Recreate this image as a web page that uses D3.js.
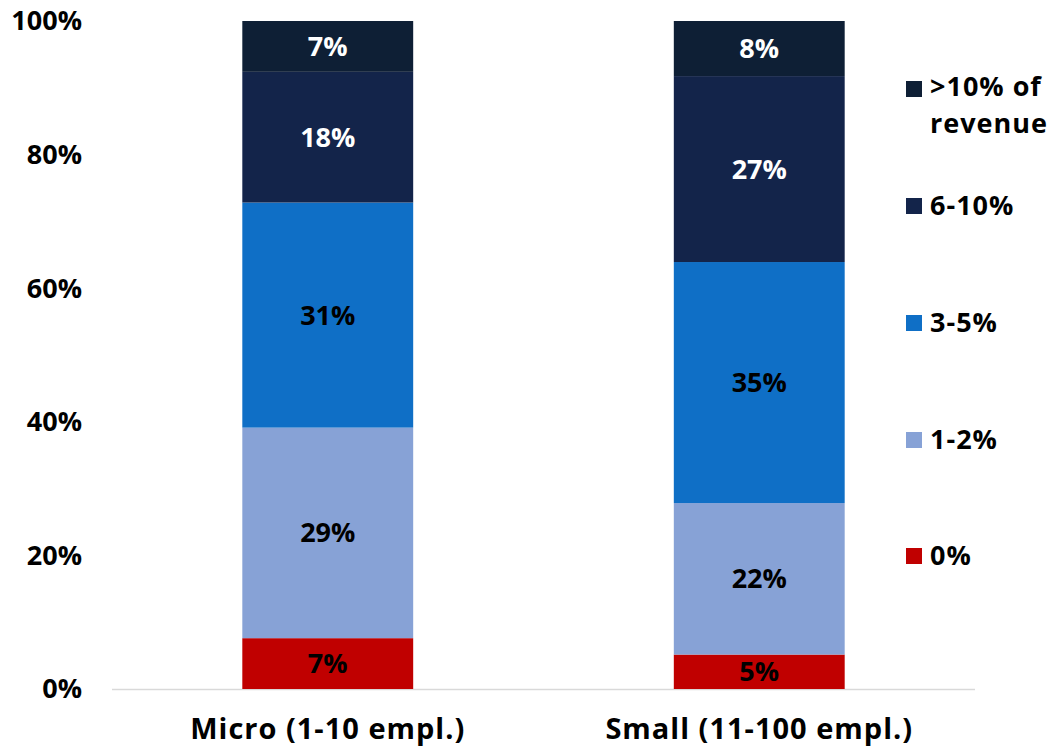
<!DOCTYPE html>
<html>
<head>
<meta charset="utf-8">
<script src="https://cdn.jsdelivr.net/npm/d3@7"></script>
<style>
  body { margin: 0; background: #fff; }
  svg text { font-family: "Open Sans", "Lato", sans-serif; font-weight: 700; }
</style>
</head>
<body>
<div id="chart-area"></div>
<script>
// data
var categories = ["Micro (1-10 empl.)", "Small (11-100 empl.)"];
var seriesNames = ["0%", "1-2%", "3-5%", "6-10%", ">10% of revenue"];
var seriesColors = ["#C00000", "#87A2D6", "#0F6FC6", "#13244A", "#0E1F35"];
var labelColors = ["#000", "#000", "#000", "#fff", "#fff"];
var micro = [7, 29, 31, 18, 7];
var small = [5, 22, 35, 27, 8];
var yTicks = [0, 20, 40, 60, 80, 100];

var width = 1056, height = 750;
var margin = { left: 112, right: 81, top: 21, bottom: 61 };
var fs = "27px";

var svg = d3.select("#chart-area").append("svg")
  .attr("width", width)
  .attr("height", height);

var x = d3.scaleBand()
  .domain(categories)
  .range([margin.left, width - margin.right])
  .paddingInner(0.604)
  .paddingOuter(0.302);

var y = d3.scaleLinear()
  .domain([0, 100])
  .range([height - margin.bottom, margin.top]);

// build normalised stack
var rows = [micro, small].map(function(vals, i) {
  var total = d3.sum(vals);
  var r = { cat: categories[i] };
  vals.forEach(function(v, j) { r[seriesNames[j]] = v / total * 100; r["raw" + j] = v; });
  return r;
});
var stack = d3.stack().keys(seriesNames)(rows);

// baseline
svg.append("line")
  .attr("x1", margin.left).attr("x2", width - margin.right)
  .attr("y1", y(0) + 0.5).attr("y2", y(0) + 0.5)
  .attr("stroke", "#D9D9D9").attr("stroke-width", 1.5);

// y axis labels
svg.append("g").selectAll("text")
  .data(yTicks).enter().append("text")
  .attr("x", 82)
  .attr("y", function(d) { return y(d); })
  .attr("dy", "0.35em")
  .attr("text-anchor", "end")
  .attr("font-size", fs)
  .text(function(d) { return d + "%"; });

// bars
var layers = svg.append("g").selectAll("g")
  .data(stack).enter().append("g")
  .attr("fill", function(d, i) { return seriesColors[i]; });

layers.selectAll("rect")
  .data(function(d) { return d; })
  .enter().append("rect")
  .attr("x", function(d) { return x(d.data.cat); })
  .attr("width", x.bandwidth())
  .attr("y", function(d) { return y(d[1]); })
  .attr("height", function(d) { return y(d[0]) - y(d[1]); });

// segment labels
stack.forEach(function(layer, i) {
  svg.append("g").selectAll("text")
    .data(layer).enter().append("text")
    .attr("x", function(d) { return x(d.data.cat) + x.bandwidth() / 2; })
    .attr("y", function(d) { return y((d[0] + d[1]) / 2); })
    .attr("dy", "0.35em")
    .attr("text-anchor", "middle")
    .attr("font-size", fs)
    .attr("fill", labelColors[i])
    .text(function(d) { return d.data["raw" + i] + "%"; });
});

// category labels
svg.append("g").selectAll("text")
  .data(categories).enter().append("text")
  .attr("x", function(d) { return x(d) + x.bandwidth() / 2; })
  .attr("y", 739)
  .attr("text-anchor", "middle")
  .attr("font-size", "29px")
  .attr("letter-spacing", "1px")
  .text(function(d) { return d; });

// legend (top entry first)
var legendY = [89, 206, 323, 440, 556];
var legendItems = seriesNames.slice().reverse();
var legendCols = seriesColors.slice().reverse();
legendItems.forEach(function(name, i) {
  var row = svg.append("g").attr("transform", "translate(906," + legendY[i] + ")");
  row.append("rect")
    .attr("x", 0).attr("y", -8)
    .attr("width", 16).attr("height", 16)
    .attr("fill", legendCols[i]);
  var lines = name === ">10% of revenue" ? [">10% of", "revenue"] : [name];
  lines.forEach(function(line, k) {
    row.append("text")
      .attr("x", 24)
      .attr("y", k === 0 ? (lines.length > 1 ? -2 : 0) : 35)
      .attr("dy", "0.35em")
      .attr("font-size", "27px")
      .attr("letter-spacing", "1px")
      .text(line);
  });
});
</script>
</body>
</html>
